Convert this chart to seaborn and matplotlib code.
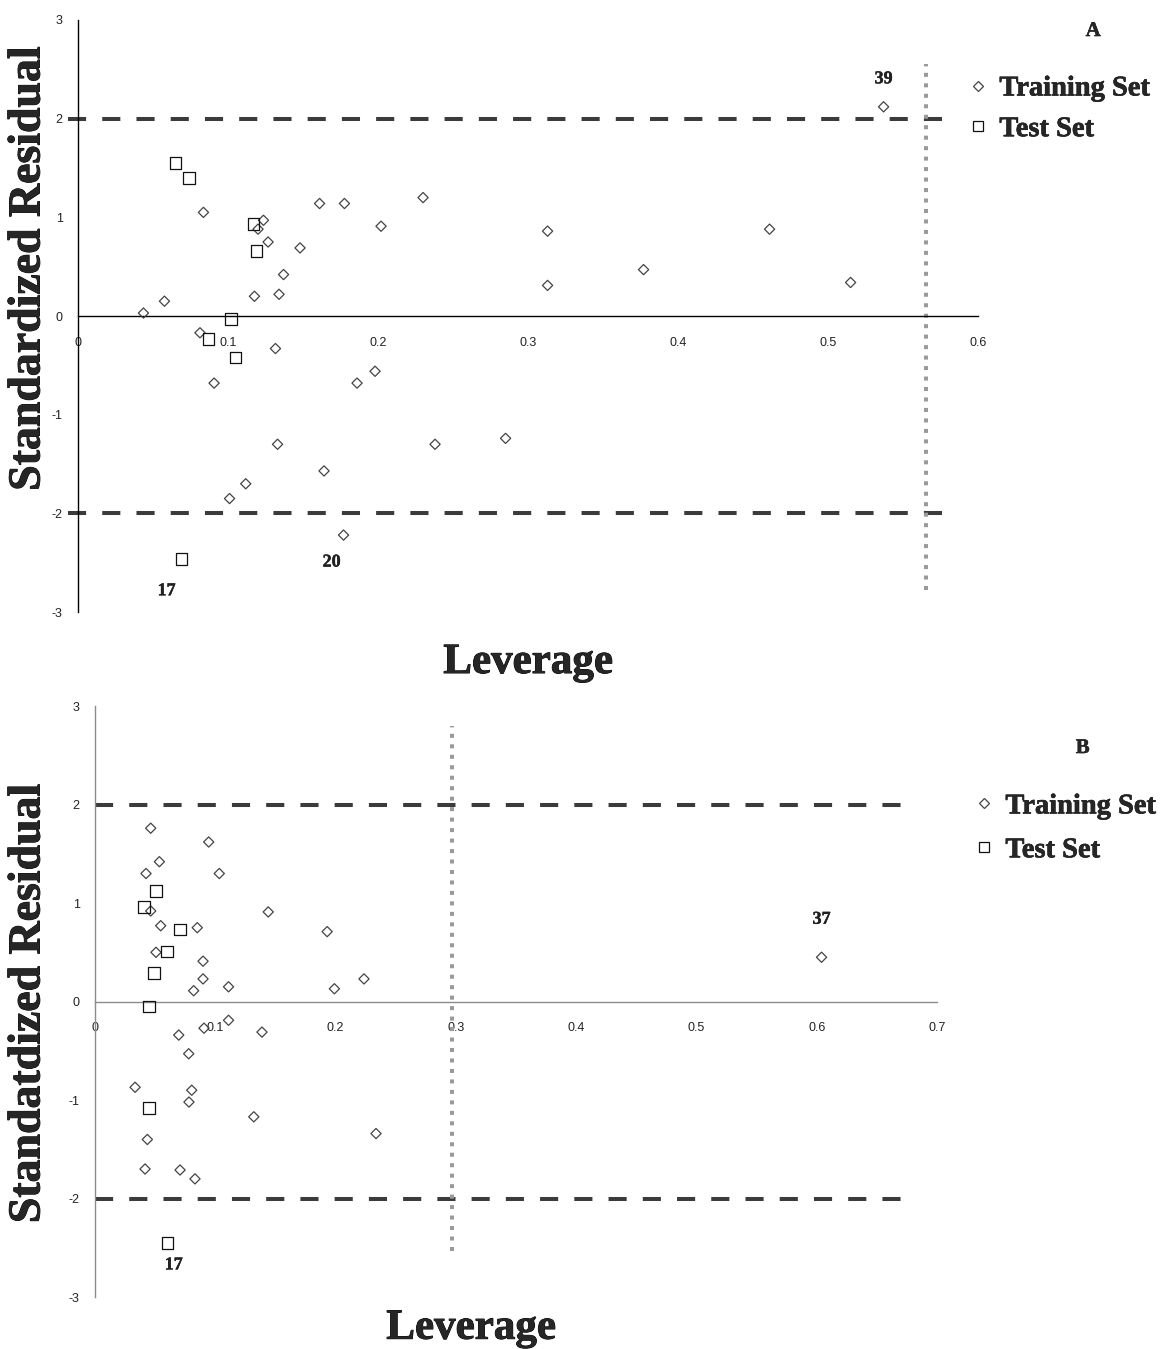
import pandas as pd
import matplotlib
matplotlib.use("Agg")
import matplotlib.pyplot as plt
import matplotlib.patheffects as pe
from matplotlib import font_manager
from matplotlib.lines import Line2D
from matplotlib.ticker import FuncFormatter
import seaborn as sns

# --- Panel A: leverage / standardized residual ---
a_train_lev = [0.0436, 0.0576, 0.0836, 0.1236, 0.120, 0.1267, 0.148, 0.161, 0.1776, 0.202,
               0.230, 0.137, 0.1176, 0.134, 0.0813, 0.1316, 0.0907, 0.186, 0.198, 0.313,
               0.313, 0.377, 0.461, 0.515, 0.537, 0.238, 0.285, 0.133, 0.164, 0.1118,
               0.101, 0.177]
a_train_res = [0.03, 0.15, 1.05, 0.97, 0.88, 0.75, 0.69, 1.14, 1.14, 0.91,
               1.20, 0.42, 0.20, 0.22, -0.17, -0.33, -0.68, -0.68, -0.56, 0.86,
               0.31, 0.47, 0.88, 0.34, 2.12, -1.30, -1.24, -1.30, -1.57, -1.70,
               -1.85, -2.22]
a_test_lev = [0.065, 0.074, 0.117, 0.119, 0.102, 0.087, 0.105, 0.069]
a_test_res = [1.55, 1.40, 0.93, 0.66, -0.03, -0.23, -0.42, -2.46]
a_hstar = 0.565

# --- Panel B ---
b_train_lev = [0.0463, 0.0945, 0.0535, 0.0424, 0.1033, 0.0463, 0.144, 0.193, 0.0546, 0.085,
               0.0507, 0.0898, 0.0898, 0.082, 0.111, 0.199, 0.2236, 0.111, 0.0906, 0.1388,
               0.0696, 0.0779, 0.0333, 0.0804, 0.0781, 0.132, 0.2336, 0.0435, 0.0416, 0.0707,
               0.0831, 0.604]
b_train_res = [1.76, 1.62, 1.42, 1.30, 1.30, 0.92, 0.91, 0.71, 0.77, 0.75,
               0.50, 0.41, 0.23, 0.11, 0.15, 0.13, 0.23, -0.19, -0.27, -0.31,
               -0.34, -0.53, -0.87, -0.90, -1.02, -1.17, -1.34, -1.40, -1.70, -1.71,
               -1.80, 0.45]
b_test_lev = [0.0507, 0.0407, 0.0704, 0.0596, 0.049, 0.0449, 0.0449, 0.0604]
b_test_res = [1.12, 0.96, 0.73, 0.51, 0.29, -0.05, -1.08, -2.45]
b_hstar = 0.297

# labelled compounds: (set, index into that list, label, offset px)
a_labels = [("train", 24, "39", (0, 28)), ("train", 31, "20", (-12, -27)), ("test", 7, "17", (-15, -32))]
b_labels = [("train", 31, "37", (0, 38)), ("test", 7, "17", (6, -22))]

sns.set_style("white")
plt.rcParams['font.family'] = ['Liberation Sans', 'DejaVu Sans']

SERIF = ['Liberation Serif', 'DejaVu Serif']
DASH_C = '#3b3b3b'
DOT_C = '#9a9a9a'

# the original uses a heavy Times bold; thicken if no real bold face is found
bold_path = font_manager.findfont(font_manager.FontProperties(family='Liberation Serif', weight='bold'))
heavy = 'bold' not in bold_path.lower()


def thick(w):
    if heavy:
        return [pe.withStroke(linewidth=w, foreground='black')]
    return [pe.withStroke(linewidth=w * 0.4, foreground='black')]


fig = plt.figure(figsize=(11.63, 13.49), dpi=100)
ax_a = fig.add_axes([0.0671, 0.5463, 0.7739, 0.4389])
ax_b = fig.add_axes([0.0817, 0.0385, 0.7240, 0.4381])


def make_df(tl, tr, sl, sr):
    d1 = pd.DataFrame({'lev': tl, 'res': tr, 'set': 'Training Set'})
    d2 = pd.DataFrame({'lev': sl, 'res': sr, 'set': 'Test Set'})
    return d1, d2


def draw_panel(ax, train, test, xmax, hstar, vspan, hspan, spine_c, labels):
    # limits lines first
    ax.plot(hspan, [2, 2], color=DASH_C, lw=2.9, dashes=(4.5, 4), clip_on=False, zorder=2)
    ax.plot(hspan, [-2, -2], color=DASH_C, lw=2.9, dashes=(4.5, 4), clip_on=False, zorder=2)
    ax.plot([hstar, hstar], vspan, color=DOT_C, lw=2.9, dashes=(1, 1.6), clip_on=False, zorder=2)

    sns.scatterplot(data=train, x='lev', y='res', marker='D', s=27, facecolor='none',
                    edgecolor='#444444', linewidth=0.9, ax=ax, zorder=3, clip_on=False)
    sns.scatterplot(data=test, x='lev', y='res', marker='s', s=70, facecolor='none',
                    edgecolor='#111111', linewidth=0.9, ax=ax, zorder=3, clip_on=False)

    for which, i, txt, off in labels:
        src = train if which == "train" else test
        ax.annotate(txt, (src['lev'][i], src['res'][i]), xytext=(off[0] * 0.72, off[1] * 0.72),
                    textcoords='offset points', ha='center', va='center',
                    fontsize=13, fontweight='bold', family=SERIF, color='#222222',
                    path_effects=thick(0.6))

    ax.set_xlim(0, xmax)
    ax.set_ylim(-3, 3)
    ax.spines['left'].set_position(('data', 0))
    ax.spines['bottom'].set_position(('data', 0))
    ax.spines['top'].set_visible(False)
    ax.spines['right'].set_visible(False)
    for s in ('left', 'bottom'):
        ax.spines[s].set_color(spine_c)
        ax.spines[s].set_linewidth(1.0)
    ax.set_xticks([i / 10 for i in range(int(round(xmax * 10)) + 1)])
    ax.set_yticks(range(-3, 4))
    fmt = FuncFormatter(lambda v, p: f"{v:g}")
    ax.xaxis.set_major_formatter(fmt)
    ax.yaxis.set_major_formatter(fmt)
    ax.tick_params(axis='both', direction='out', length=5, width=1.0, color=spine_c,
                   labelsize=9, labelcolor='#222222')
    ax.tick_params(axis='x', pad=10)
    ax.tick_params(axis='y', pad=6)
    ax.set_xlabel('')
    ax.set_ylabel('')
    ax.set_facecolor('none')


a_train, a_test = make_df(a_train_lev, a_train_res, a_test_lev, a_test_res)
b_train, b_test = make_df(b_train_lev, b_train_res, b_test_lev, b_test_res)

draw_panel(ax_a, a_train, a_test, 0.6, a_hstar, [-2.78, 2.55], [-0.007, 0.576], 'black', a_labels)
draw_panel(ax_b, b_train, b_test, 0.7, b_hstar, [-2.53, 2.80], [0.0, 0.673], '#8c8c8c', b_labels)

# axis titles, in the big bold serif of the original
big = dict(fontweight='bold', family=SERIF, ha='center', va='center', path_effects=thick(1.6))
fig.text(0.0245, 0.8013, 'Standardized Residual', rotation=90, fontsize=33, **big)
fig.text(0.0245, 0.2565, 'Standatdized Residual', rotation=90, fontsize=33, **big)
fig.text(0.454, 0.5085, 'Leverage', fontsize=31, **big)
fig.text(0.405, 0.0150, 'Leverage', fontsize=31, **big)
small = dict(fontweight='bold', family=SERIF, ha='center', va='center', path_effects=thick(0.8))
fig.text(0.940, 0.977, 'A', fontsize=15, **small)
fig.text(0.931, 0.4455, 'B', fontsize=15, **small)

# legends
handles = [
    Line2D([], [], ls='none', marker='D', ms=5.2, mfc='none', mec='#444444', mew=0.9, label='Training Set'),
    Line2D([], [], ls='none', marker='s', ms=7.5, mfc='none', mec='#111111', mew=0.9, label='Test Set'),
]
leg_font = {'family': SERIF, 'weight': 'bold', 'size': 20.5}
leg_a = ax_a.legend(handles=handles, loc='upper left', bbox_to_anchor=(0.8336, 0.944),
                    bbox_transform=fig.transFigure, frameon=False, prop=leg_font,
                    handlelength=0.6, handletextpad=0.45, labelspacing=0.52,
                    borderpad=0, borderaxespad=0)
leg_b = ax_b.legend(handles=handles, loc='upper left', bbox_to_anchor=(0.8388, 0.4118),
                    bbox_transform=fig.transFigure, frameon=False, prop=leg_font,
                    handlelength=0.6, handletextpad=0.45, labelspacing=0.63,
                    borderpad=0, borderaxespad=0)
for leg in (leg_a, leg_b):
    for t in leg.get_texts():
        t.set_path_effects(thick(1.0))

plt.savefig('out.png', dpi=100)
